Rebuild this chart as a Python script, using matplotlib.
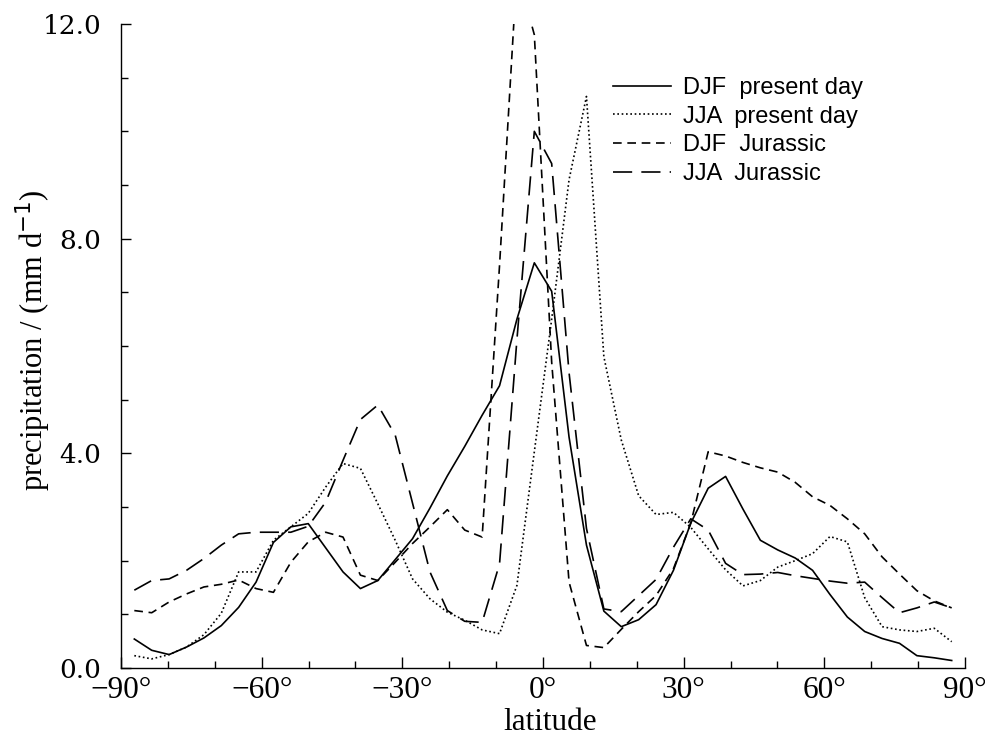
import matplotlib
matplotlib.use("Agg")
import matplotlib.pyplot as plt
from matplotlib.ticker import MultipleLocator, FixedLocator, FuncFormatter

# latitude grid of the model (Gaussian-like, ~3.71 deg spacing)
latitude = [-87.16, -83.45, -79.74, -76.03, -72.32, -68.61, -64.91, -61.20,
            -57.49, -53.78, -50.07, -46.36, -42.65, -38.94, -35.23, -31.52,
            -27.82, -24.11, -20.40, -16.69, -12.98, -9.27, -5.56, -1.85,
            1.85, 5.56, 9.27, 12.98, 16.69, 20.40, 24.11, 27.82,
            31.52, 35.23, 38.94, 42.65, 46.36, 50.07, 53.78, 57.49,
            61.20, 64.91, 68.61, 72.32, 76.03, 79.74, 83.45, 87.16]

djf_present = [0.54, 0.33, 0.25, 0.39, 0.56, 0.79, 1.13, 1.60,
               2.34, 2.63, 2.69, 2.24, 1.79, 1.48, 1.63, 2.02,
               2.41, 2.98, 3.58, 4.13, 4.71, 5.26, 6.50, 7.55,
               7.02, 4.30, 2.29, 1.06, 0.77, 0.90, 1.18, 1.82,
               2.70, 3.35, 3.57, 2.96, 2.38, 2.20, 2.05, 1.82,
               1.37, 0.95, 0.68, 0.55, 0.46, 0.23, 0.19, 0.14]

jja_present = [0.23, 0.17, 0.25, 0.39, 0.62, 1.02, 1.79, 1.79,
               2.38, 2.63, 2.88, 3.37, 3.81, 3.72, 3.06, 2.38,
               1.66, 1.29, 1.04, 0.89, 0.71, 0.64, 1.54, 4.03,
               6.50, 9.10, 10.65, 5.80, 4.25, 3.21, 2.86, 2.90,
               2.62, 2.22, 1.83, 1.53, 1.63, 1.88, 2.00, 2.13,
               2.45, 2.35, 1.31, 0.77, 0.71, 0.68, 0.74, 0.49]

djf_jurassic = [1.07, 1.03, 1.23, 1.38, 1.51, 1.56, 1.64, 1.48,
                1.41, 1.97, 2.35, 2.53, 2.44, 1.73, 1.63, 1.97,
                2.32, 2.63, 2.95, 2.57, 2.44, 7.50, 13.00, 11.80,
                5.70, 1.60, 0.42, 0.38, 0.72, 1.05, 1.35, 1.85,
                2.70, 4.03, 3.95, 3.83, 3.73, 3.65, 3.46, 3.19,
                3.03, 2.78, 2.50, 2.07, 1.75, 1.44, 1.25, 1.12]

jja_jurassic = [1.45, 1.63, 1.66, 1.82, 2.04, 2.29, 2.50, 2.53,
                2.53, 2.53, 2.64, 3.09, 3.87, 4.63, 4.90, 4.34,
                3.07, 1.79, 1.07, 0.87, 0.85, 1.94, 6.12, 10.00,
                9.40, 5.50, 2.60, 1.10, 1.05, 1.35, 1.65, 2.25,
                2.78, 2.57, 1.95, 1.74, 1.75, 1.78, 1.72, 1.67,
                1.62, 1.58, 1.60, 1.31, 1.03, 1.12, 1.23, 1.12]

labels = ["DJF  present day", "JJA  present day", "DJF  Jurassic", "JJA  Jurassic"]
x_ticks = [-90, -60, -30, 0, 30, 60, 90]
y_ticks = [0.0, 4.0, 8.0, 12.0]

W, H = 985, 739
fig = plt.figure(figsize=(W / 100, H / 100), dpi=100)
ax_l, ax_r, ax_b, ax_t = 121, 965, 668, 24
ax = fig.add_axes([ax_l / W, 1 - ax_b / H, (ax_r - ax_l) / W, (ax_b - ax_t) / H])

lw = 1.2
ax.plot(latitude, djf_present, color="black", lw=lw, linestyle="-", label=labels[0])
ax.plot(latitude, jja_present, color="black", lw=lw, linestyle=(0, (1.0, 1.6)), label=labels[1])
ax.plot(latitude, djf_jurassic, color="black", lw=lw, linestyle=(0, (5.2, 3.4)), label=labels[2])
ax.plot(latitude, jja_jurassic, color="black", lw=lw, linestyle=(0, (11.5, 5.5)), label=labels[3])

ax.set_xlim(-90, 90)
ax.set_ylim(0, 12)
for s in ("top", "right"):
    ax.spines[s].set_visible(False)
for s in ("left", "bottom"):
    ax.spines[s].set_linewidth(1.0)

ax.xaxis.set_major_locator(FixedLocator(x_ticks))
ax.xaxis.set_minor_locator(MultipleLocator(10))
ax.yaxis.set_major_locator(FixedLocator(y_ticks))
ax.yaxis.set_minor_locator(MultipleLocator(1))
ax.xaxis.set_major_formatter(FuncFormatter(lambda v, p: f"{int(v)}°".replace("-", "\u2212")))
ax.yaxis.set_major_formatter(FuncFormatter(lambda v, p: f"{v:.1f}"))

ax.tick_params(axis="both", which="both", direction="in", width=1.0)
ax.tick_params(axis="x", which="major", length=8, pad=6)
ax.tick_params(axis="x", which="minor", length=5)
ax.tick_params(axis="y", which="major", length=7, pad=14)
ax.tick_params(axis="y", which="minor", length=5)
for t in ax.get_xticklabels():
    t.set_fontfamily("Liberation Serif")
    t.set_fontsize(22.5)
for t in ax.get_yticklabels():
    t.set_fontfamily("DejaVu Serif")
    t.set_fontsize(19)

ax.set_xlabel("latitude", fontfamily="Liberation Serif", fontsize=22.5)
ax.xaxis.set_label_coords((550 - ax_l) / (ax_r - ax_l), -(722 - ax_b) / (ax_b - ax_t))
ax.xaxis.label.set_va("center")
ax.set_ylabel("precipitation / (mm d$^{-1}$)", fontfamily="Liberation Serif", fontsize=22)
ax.yaxis.set_label_coords(-(ax_l - 33) / (ax_r - ax_l), (ax_b - 340) / (ax_b - ax_t))
ax.yaxis.label.set_va("center")

leg = ax.legend(loc="upper left", bbox_to_anchor=(613 / W, 1 - 77 / H),
                bbox_transform=fig.transFigure, frameon=False,
                prop={"family": "Liberation Sans", "size": 17},
                handlelength=2.45, handletextpad=0.5, labelspacing=0.28,
                borderpad=0, borderaxespad=0)

fig.savefig("out.png", dpi=100)
